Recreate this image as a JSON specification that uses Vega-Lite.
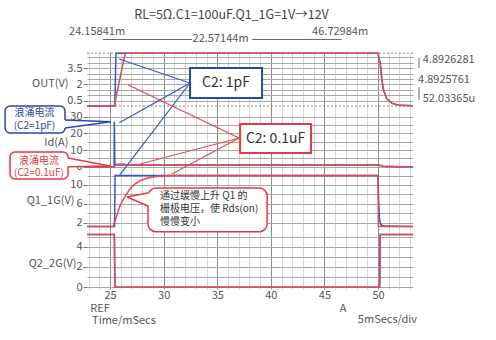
{
"$schema":"https://vega.github.io/schema/vega-lite/v6.json",
"width":326,"height":237,
"autosize":{"type":"none"},
"padding":{"left":87,"top":52,"right":83,"bottom":51},
"background":"white",
"config":{"font":"Noto Sans CJK SC","view":{"stroke":null},"axis":{"labelFont":"Noto Sans CJK SC","titleFont":"Noto Sans CJK SC"}},
"datasets":{"sig":[
{"s":"OUT","c":"1pF","t":22.85,"v":0},{"s":"OUT","c":"1pF","t":25.45,"v":0},{"s":"OUT","c":"1pF","t":25.55,"v":4.89},{"s":"OUT","c":"1pF","t":50,"v":4.89},{"s":"OUT","c":"1pF","t":50.2,"v":3.9},{"s":"OUT","c":"1pF","t":50.35,"v":2.5},{"s":"OUT","c":"1pF","t":50.5,"v":1.5},{"s":"OUT","c":"1pF","t":50.8,"v":0.7},{"s":"OUT","c":"1pF","t":51.3,"v":0.25},{"s":"OUT","c":"1pF","t":52,"v":0.06},{"s":"OUT","c":"1pF","t":53.26,"v":0.02},
{"s":"Id","c":"1pF","t":22.85,"v":0},{"s":"Id","c":"1pF","t":25.38,"v":0},{"s":"Id","c":"1pF","t":25.4,"v":27},{"s":"Id","c":"1pF","t":25.45,"v":1.5},{"s":"Id","c":"1pF","t":25.6,"v":0.98},{"s":"Id","c":"1pF","t":50,"v":0.98},{"s":"Id","c":"1pF","t":50.2,"v":0.78},{"s":"Id","c":"1pF","t":50.35,"v":0.5},{"s":"Id","c":"1pF","t":50.5,"v":0.3},{"s":"Id","c":"1pF","t":50.8,"v":0.14},{"s":"Id","c":"1pF","t":51.3,"v":0.05},{"s":"Id","c":"1pF","t":52,"v":0.01},{"s":"Id","c":"1pF","t":53.26,"v":0},
{"s":"Q1","c":"1pF","t":22.85,"v":1.15},{"s":"Q1","c":"1pF","t":25.42,"v":1.15},{"s":"Q1","c":"1pF","t":25.47,"v":12},{"s":"Q1","c":"1pF","t":50,"v":12},{"s":"Q1","c":"1pF","t":50.05,"v":7},{"s":"Q1","c":"1pF","t":50.12,"v":3},{"s":"Q1","c":"1pF","t":50.25,"v":1.6},{"s":"Q1","c":"1pF","t":50.5,"v":1.25},{"s":"Q1","c":"1pF","t":53.26,"v":1.15},
{"s":"Q2","c":"1pF","t":22.85,"v":5.2},{"s":"Q2","c":"1pF","t":25.4,"v":5.2},{"s":"Q2","c":"1pF","t":25.45,"v":0},{"s":"Q2","c":"1pF","t":50.15,"v":0},{"s":"Q2","c":"1pF","t":50.2,"v":5.2},{"s":"Q2","c":"1pF","t":53.26,"v":5.2},
{"s":"OUT","c":"0.1uF","t":22.85,"v":0},{"s":"OUT","c":"0.1uF","t":25.4,"v":0},{"s":"OUT","c":"0.1uF","t":25.7,"v":1.5},{"s":"OUT","c":"0.1uF","t":26,"v":2.95},{"s":"OUT","c":"0.1uF","t":26.3,"v":4.35},{"s":"OUT","c":"0.1uF","t":26.45,"v":4.89},{"s":"OUT","c":"0.1uF","t":50,"v":4.89},{"s":"OUT","c":"0.1uF","t":50.2,"v":3.9},{"s":"OUT","c":"0.1uF","t":50.35,"v":2.5},{"s":"OUT","c":"0.1uF","t":50.5,"v":1.5},{"s":"OUT","c":"0.1uF","t":50.8,"v":0.7},{"s":"OUT","c":"0.1uF","t":51.3,"v":0.25},{"s":"OUT","c":"0.1uF","t":52,"v":0.06},{"s":"OUT","c":"0.1uF","t":53.26,"v":0.02},
{"s":"Id","c":"0.1uF","t":22.85,"v":0},{"s":"Id","c":"0.1uF","t":25.4,"v":0},{"s":"Id","c":"0.1uF","t":25.55,"v":1.4},{"s":"Id","c":"0.1uF","t":26,"v":1.6},{"s":"Id","c":"0.1uF","t":26.4,"v":1.5},{"s":"Id","c":"0.1uF","t":26.5,"v":0.98},{"s":"Id","c":"0.1uF","t":50,"v":0.98},{"s":"Id","c":"0.1uF","t":50.2,"v":0.78},{"s":"Id","c":"0.1uF","t":50.35,"v":0.5},{"s":"Id","c":"0.1uF","t":50.5,"v":0.3},{"s":"Id","c":"0.1uF","t":50.8,"v":0.14},{"s":"Id","c":"0.1uF","t":51.3,"v":0.05},{"s":"Id","c":"0.1uF","t":52,"v":0.01},{"s":"Id","c":"0.1uF","t":53.26,"v":0},
{"s":"Q1","c":"0.1uF","t":22.85,"v":1.15},{"s":"Q1","c":"0.1uF","t":25.3,"v":1.15},{"s":"Q1","c":"0.1uF","t":25.6,"v":3.3},{"s":"Q1","c":"0.1uF","t":25.9,"v":5.4},{"s":"Q1","c":"0.1uF","t":26.2,"v":6.8},{"s":"Q1","c":"0.1uF","t":26.5,"v":7.9},{"s":"Q1","c":"0.1uF","t":26.9,"v":9.3},{"s":"Q1","c":"0.1uF","t":27.3,"v":10.2},{"s":"Q1","c":"0.1uF","t":27.8,"v":10.9},{"s":"Q1","c":"0.1uF","t":28.5,"v":11.5},{"s":"Q1","c":"0.1uF","t":29.3,"v":11.8},{"s":"Q1","c":"0.1uF","t":30.5,"v":12},{"s":"Q1","c":"0.1uF","t":50,"v":12},{"s":"Q1","c":"0.1uF","t":50.03,"v":1.3},{"s":"Q1","c":"0.1uF","t":50.3,"v":1.18},{"s":"Q1","c":"0.1uF","t":53.26,"v":1.15},
{"s":"Q2","c":"0.1uF","t":22.85,"v":5.2},{"s":"Q2","c":"0.1uF","t":25.4,"v":5.2},{"s":"Q2","c":"0.1uF","t":25.45,"v":0},{"s":"Q2","c":"0.1uF","t":50.15,"v":0},{"s":"Q2","c":"0.1uF","t":50.2,"v":5.2},{"s":"Q2","c":"0.1uF","t":53.26,"v":5.2}
]},
"resolve":{"scale":{"y":"independent"},"axis":{"x":"independent"}},
"layer":[
 {"data":{"name":"sig"},"transform":[{"filter":"datum.s=='Id'"}],"mark":{"type":"line","strokeWidth":0,"opacity":0},"encoding":{
  "x":{"field":"t","type":"quantitative","scale":{"domain":[22.85,53.26],"nice":false,"zero":false},"axis":{"orient":"bottom","values":[23,24,26,27,28,29,31,32,33,34,36,37,38,39,41,42,43,44,46,47,48,49,51,52,53],"labels":false,"ticks":false,"domain":false,"grid":true,"gridColor":"#d6d6d6","gridWidth":1,"title":null}},
  "y":{"field":"v","type":"quantitative","scale":{"domain":[-73.38,68.82],"nice":false,"zero":false},"axis":{"orient":"left","values":[0,5,10,15,20,25,30],"labelExpr":"datum.value % 10 == 0 ? '' + datum.value : ''","tickOpacity":{"condition":{"test":"datum.value % 10 == 0","value":1},"value":0},"tickSize":4,"tickColor":"#777","domain":false,"grid":true,"gridColor":"#a8a8a8","labelColor":"#555","labelFontSize":11,"labelPadding":1,"title":"Id(A)","titleAngle":0,"titleAlign":"right","titleBaseline":"middle","titleX":-19,"titleY":90.7,"titleFontSize":11,"titleFontWeight":"normal","titleColor":"#555"}}}},
 {"data":{"name":"sig"},"transform":[{"filter":"datum.s=='OUT'"}],"mark":{"type":"line","strokeWidth":0,"opacity":0},"encoding":{
  "x":{"field":"t","type":"quantitative","axis":{"orient":"bottom","values":[25,30,35,40,45,50],"ticks":false,"domain":false,"grid":true,"gridColor":"#8a8a8a","gridWidth":1,"labelColor":"#555","labelFontSize":11,"labelPadding":0,"labelFlush":false,"labelOverlap":false,"title":null}},
  "y":{"field":"v","type":"quantitative","scale":{"domain":[-16.944,5],"nice":false,"zero":false},"axis":{"orient":"left","values":[0.5,1,1.5,2,2.5,3,3.5,4,4.5],"labelExpr":"indexof([0.5,2,3.5], datum.value) >= 0 ? '' + datum.value : ''","tickOpacity":{"condition":{"test":"indexof([0.5,2,3.5], datum.value) >= 0","value":1},"value":0},"tickSize":4,"tickColor":"#777","domain":false,"grid":true,"gridColor":"#a8a8a8","labelColor":"#555","labelFontSize":11,"labelPadding":1,"title":"OUT(V)","titleAngle":0,"titleAlign":"right","titleBaseline":"middle","titleX":-19,"titleY":31,"titleFontSize":11,"titleFontWeight":"normal","titleColor":"#555"}}}},
 {"data":{"name":"sig"},"transform":[{"filter":"datum.s=='Q1'"}],"mark":{"type":"line","strokeWidth":0,"opacity":0},"encoding":{
  "x":{"field":"t","type":"quantitative","axis":null},
  "y":{"field":"v","type":"quantitative","scale":{"domain":[-12.128,38.298],"nice":false,"zero":false},"axis":{"orient":"left","values":[2,4,6,8,10,12],"labelExpr":"datum.value % 4 == 2 ? '' + datum.value : ''","tickOpacity":{"condition":{"test":"datum.value % 4 == 2","value":1},"value":0},"tickSize":4,"tickColor":"#777","domain":false,"grid":true,"gridColor":"#a8a8a8","labelColor":"#555","labelFontSize":11,"labelPadding":1,"title":"Q1_1G(V)","titleAngle":0,"titleAlign":"right","titleBaseline":"middle","titleX":-13,"titleY":148.7,"titleFontSize":11,"titleFontWeight":"normal","titleColor":"#555"}}}},
 {"data":{"name":"sig"},"transform":[{"filter":"datum.s=='Q2'"}],"mark":{"type":"line","strokeWidth":0,"opacity":0},"encoding":{
  "x":{"field":"t","type":"quantitative","axis":null},
  "y":{"field":"v","type":"quantitative","scale":{"domain":[-0.1675,23.182],"nice":false,"zero":false},"axis":{"orient":"left","values":[0,1,2,3,4,5],"labelExpr":"datum.value % 2 == 0 ? '' + datum.value : ''","tickOpacity":{"condition":{"test":"datum.value % 2 == 0","value":1},"value":0},"tickSize":4,"tickColor":"#777","domain":false,"grid":true,"gridColor":"#a8a8a8","labelColor":"#555","labelFontSize":11,"labelPadding":1,"title":"Q2_2G(V)","titleAngle":0,"titleAlign":"right","titleBaseline":"middle","titleX":-11,"titleY":211,"titleFontSize":11,"titleFontWeight":"normal","titleColor":"#555"}}}},
 {"mark":{"type":"rect","fill":"white"},"encoding":{"x":{"datum":22.85,"type":"quantitative","axis":null},"x2":{"datum":53.26},"y":{"datum":-0.046,"type":"quantitative","axis":null,"scale":{"domain":[-16.944,5],"nice":false,"zero":false}},"y2":{"datum":-0.417}}},
 {"mark":{"type":"rect","fill":"white"},"encoding":{"x":{"datum":22.85,"type":"quantitative","axis":null},"x2":{"datum":53.26},"y":{"datum":-1.98,"type":"quantitative","axis":null,"scale":{"domain":[-73.38,68.82],"nice":false,"zero":false}},"y2":{"datum":-4.08}}},
 {"mark":{"type":"rect","fill":"white"},"encoding":{"x":{"datum":22.85,"type":"quantitative","axis":null},"x2":{"datum":53.26},"y":{"datum":0.53,"type":"quantitative","axis":null,"scale":{"domain":[-12.128,38.298],"nice":false,"zero":false}},"y2":{"datum":-0.21}}},
 {"mark":{"type":"rule","color":"#bdbdbd","strokeDash":[1,2],"strokeWidth":1},"encoding":{"y":{"datum":0.21,"type":"quantitative","axis":null,"scale":{"domain":[-12.128,38.298],"nice":false,"zero":false}}}},
 {"data":{"values":[{"v":4.8926},{"v":0.00005}]},"mark":{"type":"rule","color":"#8c8c8c","strokeDash":[2,2],"strokeWidth":1},"encoding":{"y":{"field":"v","type":"quantitative","axis":null,"scale":{"domain":[-16.944,5],"nice":false,"zero":false}}}},
 {"mark":{"type":"rule","color":"#777","strokeDash":[2,2],"strokeWidth":1},"encoding":{"x":{"datum":24.158,"type":"quantitative","axis":null}}},
 {"data":{"name":"sig"},"transform":[{"filter":"datum.s=='OUT'"}],"mark":{"type":"line","strokeWidth":1.5},"encoding":{"x":{"field":"t","type":"quantitative","axis":null},"y":{"field":"v","type":"quantitative","axis":null,"scale":{"domain":[-16.944,5],"nice":false,"zero":false}},"color":{"field":"c","type":"nominal","scale":{"domain":["1pF","0.1uF"],"range":["#3558c8","#e64a4e"]},"legend":null}}},
 {"data":{"name":"sig"},"transform":[{"filter":"datum.s=='Id'"}],"mark":{"type":"line","strokeWidth":1.5},"encoding":{"x":{"field":"t","type":"quantitative","axis":null},"y":{"field":"v","type":"quantitative","axis":null,"scale":{"domain":[-73.38,68.82],"nice":false,"zero":false}},"color":{"field":"c","type":"nominal","legend":null}}},
 {"data":{"name":"sig"},"transform":[{"filter":"datum.s=='Q1'"}],"mark":{"type":"line","strokeWidth":1.5},"encoding":{"x":{"field":"t","type":"quantitative","axis":null},"y":{"field":"v","type":"quantitative","axis":null,"scale":{"domain":[-12.128,38.298],"nice":false,"zero":false}},"color":{"field":"c","type":"nominal","legend":null}}},
 {"data":{"name":"sig"},"transform":[{"filter":"datum.s=='Q2'"}],"mark":{"type":"line","strokeWidth":1.5},"encoding":{"x":{"field":"t","type":"quantitative","axis":null},"y":{"field":"v","type":"quantitative","axis":null,"scale":{"domain":[-0.1675,23.182],"nice":false,"zero":false}},"color":{"field":"c","type":"nominal","legend":null}}},
 {"data":{"values":[{"t":36.33,"v":8.43,"txt":"RL=5Ω.C1=100uF.Q1_1G=1V→12V"}]},"mark":{"type":"text","fontSize":12.5,"color":"#444","align":"center","baseline":"middle"},"encoding":{"x":{"field":"t","type":"quantitative","axis":null},"y":{"field":"v","type":"quantitative","axis":null,"scale":{"domain":[-16.944,5],"nice":false,"zero":false}},"text":{"field":"txt"}}},
 {"data":{"values":[{"t":23.79,"v":6.85,"txt":"24.15841m"},{"t":35.31,"v":6.16,"txt":"22.57144m"},{"t":46.46,"v":6.85,"txt":"46.72984m"}]},"mark":{"type":"text","fontSize":11,"color":"#555","align":"center","baseline":"middle"},"encoding":{"x":{"field":"t","type":"quantitative","axis":null},"y":{"field":"v","type":"quantitative","axis":null,"scale":{"domain":[-16.944,5],"nice":false,"zero":false}},"text":{"field":"txt"}}},
 {"data":{"values":[{"t":32.65,"t2":24.3,"v":6.16,"v2":6.16},{"t":38.25,"t2":46.6,"v":6.16,"v2":6.16},{"t":53.82,"t2":53.82,"v":3.52,"v2":4.44},{"t":53.82,"t2":53.82,"v":1.76,"v2":0.56}]},"mark":{"type":"rule","color":"#666","strokeWidth":1},"encoding":{"x":{"field":"t","type":"quantitative","axis":null},"x2":{"field":"t2"},"y":{"field":"v","type":"quantitative","axis":null,"scale":{"domain":[-16.944,5],"nice":false,"zero":false}},"y2":{"field":"v2"}}},
 {"mark":{"type":"point","shape":"triangle-left","filled":true,"size":22,"color":"#666","opacity":1},"encoding":{"x":{"datum":24.42,"type":"quantitative","axis":null},"y":{"datum":6.16,"type":"quantitative","axis":null,"scale":{"domain":[-16.944,5],"nice":false,"zero":false}}}},
 {"mark":{"type":"point","shape":"triangle-right","filled":true,"size":22,"color":"#666","opacity":1},"encoding":{"x":{"datum":46.48,"type":"quantitative","axis":null},"y":{"datum":6.16,"type":"quantitative","axis":null,"scale":{"domain":[-16.944,5],"nice":false,"zero":false}}}},
 {"mark":{"type":"point","shape":"triangle-up","filled":true,"size":12,"color":"#666","opacity":1},"encoding":{"x":{"datum":53.82,"type":"quantitative","axis":null},"y":{"datum":4.35,"type":"quantitative","axis":null,"scale":{"domain":[-16.944,5],"nice":false,"zero":false}}}},
 {"mark":{"type":"point","shape":"triangle-down","filled":true,"size":12,"color":"#666","opacity":1},"encoding":{"x":{"datum":53.82,"type":"quantitative","axis":null},"y":{"datum":0.65,"type":"quantitative","axis":null,"scale":{"domain":[-16.944,5],"nice":false,"zero":false}}}},
 {"data":{"values":[{"t":54.17,"v":4.26,"txt":"4.8926281"},{"t":53.73,"v":2.41,"txt":"4.8925761"},{"t":54.17,"v":0.65,"txt":"52.03365u"}]},"mark":{"type":"text","fontSize":11,"color":"#555","align":"left","baseline":"middle"},"encoding":{"x":{"field":"t","type":"quantitative","axis":null},"y":{"field":"v","type":"quantitative","axis":null,"scale":{"domain":[-16.944,5],"nice":false,"zero":false}},"text":{"field":"txt"}}},
 {"data":{"values":[{"t":32.46,"v":2.13,"t2":25.84,"v2":4.35}]},"mark":{"type":"rule","color":"#3558c8","strokeWidth":1.2},"encoding":{"x":{"field":"t","type":"quantitative","axis":null},"x2":{"field":"t2"},"y":{"field":"v","type":"quantitative","axis":null,"scale":{"domain":[-16.944,5],"nice":false,"zero":false}},"y2":{"field":"v2"}}},
 {"data":{"values":[{"t":37.03,"v":-2.96,"t2":26.71,"v2":1.94}]},"mark":{"type":"rule","color":"#e64a4e","strokeWidth":1.2},"encoding":{"x":{"field":"t","type":"quantitative","axis":null},"x2":{"field":"t2"},"y":{"field":"v","type":"quantitative","axis":null,"scale":{"domain":[-16.944,5],"nice":false,"zero":false}},"y2":{"field":"v2"}}},
 {"data":{"values":[{"t":32.46,"t2":39.18,"v":3.52,"v2":0.74}]},"mark":{"type":"rect","fill":"white","stroke":"#2a48a8","strokeWidth":2},"encoding":{"x":{"field":"t","type":"quantitative","axis":null},"x2":{"field":"t2"},"y":{"field":"v","type":"quantitative","axis":null,"scale":{"domain":[-16.944,5],"nice":false,"zero":false}},"y2":{"field":"v2"}}},
 {"data":{"values":[{"t":35.82,"v":2.13,"txt":"C2: 1pF"}]},"mark":{"type":"text","fontSize":14,"color":"#333","align":"center","baseline":"middle"},"encoding":{"x":{"field":"t","type":"quantitative","axis":null},"y":{"field":"v","type":"quantitative","axis":null,"scale":{"domain":[-16.944,5],"nice":false,"zero":false}},"text":{"field":"txt"}}},
 {"data":{"values":[{"t":32.46,"v":50.22,"t2":25.87,"v2":26.4}]},"mark":{"type":"rule","color":"#3558c8","strokeWidth":1.2},"encoding":{"x":{"field":"t","type":"quantitative","axis":null},"x2":{"field":"t2"},"y":{"field":"v","type":"quantitative","axis":null,"scale":{"domain":[-73.38,68.82],"nice":false,"zero":false}},"y2":{"field":"v2"}}},
 {"data":{"values":[{"t":37.03,"v":17.22,"t2":27.8,"v2":1.62}]},"mark":{"type":"rule","color":"#e64a4e","strokeWidth":1.2},"encoding":{"x":{"field":"t","type":"quantitative","axis":null},"x2":{"field":"t2"},"y":{"field":"v","type":"quantitative","axis":null,"scale":{"domain":[-73.38,68.82],"nice":false,"zero":false}},"y2":{"field":"v2"}}},
 {"data":{"values":[{"t":37.13,"t2":43.75,"v":25.62,"v2":8.22}]},"mark":{"type":"rect","fill":"white","stroke":"#e23b40","strokeWidth":2},"encoding":{"x":{"field":"t","type":"quantitative","axis":null},"x2":{"field":"t2"},"y":{"field":"v","type":"quantitative","axis":null,"scale":{"domain":[-73.38,68.82],"nice":false,"zero":false}},"y2":{"field":"v2"}}},
 {"data":{"values":[{"t":40.44,"v":16.9,"txt":"C2: 0.1uF"}]},"mark":{"type":"text","fontSize":14,"color":"#333","align":"center","baseline":"middle"},"encoding":{"x":{"field":"t","type":"quantitative","axis":null},"y":{"field":"v","type":"quantitative","axis":null,"scale":{"domain":[-73.38,68.82],"nice":false,"zero":false}},"text":{"field":"txt"}}},
 {"data":{"values":[{"t":15.21,"t2":20.8,"v":36.42,"v2":20.22}]},"mark":{"type":"rect","fill":"white","stroke":"#2a48a8","strokeWidth":1.5,"cornerRadius":5},"encoding":{"x":{"field":"t","type":"quantitative","axis":null},"x2":{"field":"t2"},"y":{"field":"v","type":"quantitative","axis":null,"scale":{"domain":[-73.38,68.82],"nice":false,"zero":false}},"y2":{"field":"v2"}}},
 {"data":{"values":[{"t":20.7,"v":28.02,"v2":23.22},{"t":25.07,"v":27.0,"v2":27.0}]},"mark":{"type":"area","color":"white","opacity":1,"fillOpacity":1},"encoding":{"x":{"field":"t","type":"quantitative","axis":null},"y":{"field":"v","type":"quantitative","axis":null,"scale":{"domain":[-73.38,68.82],"nice":false,"zero":false}},"y2":{"field":"v2"}}},
 {"data":{"values":[{"t":20.8,"v":28.02,"t2":25.07,"v2":27.0},{"t":20.8,"v":23.22,"t2":25.07,"v2":27.0}]},"mark":{"type":"rule","color":"#2a48a8","strokeWidth":1.5},"encoding":{"x":{"field":"t","type":"quantitative","axis":null},"x2":{"field":"t2"},"y":{"field":"v","type":"quantitative","axis":null,"scale":{"domain":[-73.38,68.82],"nice":false,"zero":false}},"y2":{"field":"v2"}}},
 {"data":{"values":[{"t":17.95,"v":32.2,"txt":"浪涌电流"},{"t":17.95,"v":24.2,"txt":"(C2=1pF)"}]},"mark":{"type":"text","fontSize":10,"color":"#2a48a8","align":"center","baseline":"middle"},"encoding":{"x":{"field":"t","type":"quantitative","axis":null},"y":{"field":"v","type":"quantitative","axis":null,"scale":{"domain":[-73.38,68.82],"nice":false,"zero":false}},"text":{"field":"txt"}}},
 {"data":{"values":[{"t":15.67,"t2":21.08,"v":8.82,"v2":-7.38}]},"mark":{"type":"rect","fill":"white","stroke":"#e23b40","strokeWidth":1.5,"cornerRadius":5},"encoding":{"x":{"field":"t","type":"quantitative","axis":null},"x2":{"field":"t2"},"y":{"field":"v","type":"quantitative","axis":null,"scale":{"domain":[-73.38,68.82],"nice":false,"zero":false}},"y2":{"field":"v2"}}},
 {"data":{"values":[{"t":20.98,"v":5.22,"v2":0.0},{"t":25.0,"v":0.42,"v2":0.42}]},"mark":{"type":"area","color":"white","opacity":1,"fillOpacity":1},"encoding":{"x":{"field":"t","type":"quantitative","axis":null},"y":{"field":"v","type":"quantitative","axis":null,"scale":{"domain":[-73.38,68.82],"nice":false,"zero":false}},"y2":{"field":"v2"}}},
 {"data":{"values":[{"t":21.08,"v":5.22,"t2":25.0,"v2":0.42},{"t":21.08,"v":0.0,"t2":25.0,"v2":0.42}]},"mark":{"type":"rule","color":"#e23b40","strokeWidth":1.5},"encoding":{"x":{"field":"t","type":"quantitative","axis":null},"x2":{"field":"t2"},"y":{"field":"v","type":"quantitative","axis":null,"scale":{"domain":[-73.38,68.82],"nice":false,"zero":false}},"y2":{"field":"v2"}}},
 {"data":{"values":[{"t":18.37,"v":3.3,"txt":"浪涌电流"},{"t":18.37,"v":-3.9,"txt":"(C2=0.1uF)"}]},"mark":{"type":"text","fontSize":10,"color":"#e23b40","align":"center","baseline":"middle"},"encoding":{"x":{"field":"t","type":"quantitative","axis":null},"y":{"field":"v","type":"quantitative","axis":null,"scale":{"domain":[-73.38,68.82],"nice":false,"zero":false}},"text":{"field":"txt"}}},
 {"data":{"values":[{"t":32.46,"v":31.7,"t2":25.93,"v2":12.23}]},"mark":{"type":"rule","color":"#3558c8","strokeWidth":1.2},"encoding":{"x":{"field":"t","type":"quantitative","axis":null},"x2":{"field":"t2"},"y":{"field":"v","type":"quantitative","axis":null,"scale":{"domain":[-12.128,38.298],"nice":false,"zero":false}},"y2":{"field":"v2"}}},
 {"data":{"values":[{"t":37.03,"v":20.0,"t2":30.76,"v2":12.34}]},"mark":{"type":"rule","color":"#e64a4e","strokeWidth":1.2},"encoding":{"x":{"field":"t","type":"quantitative","axis":null},"x2":{"field":"t2"},"y":{"field":"v","type":"quantitative","axis":null,"scale":{"domain":[-12.128,38.298],"nice":false,"zero":false}},"y2":{"field":"v2"}}},
 {"data":{"values":[{"t":28.54,"t2":39.65,"v":9.36,"v2":0.06}]},"mark":{"type":"rect","fill":"white","stroke":"#e23b40","strokeWidth":1.5,"cornerRadius":8},"encoding":{"x":{"field":"t","type":"quantitative","axis":null},"x2":{"field":"t2"},"y":{"field":"v","type":"quantitative","axis":null,"scale":{"domain":[-12.128,38.298],"nice":false,"zero":false}},"y2":{"field":"v2"}}},
 {"data":{"values":[{"t":26.59,"v":7.45,"v2":7.45},{"t":28.7,"v":8.3,"v2":5.53}]},"mark":{"type":"area","color":"white","opacity":1,"fillOpacity":1},"encoding":{"x":{"field":"t","type":"quantitative","axis":null},"y":{"field":"v","type":"quantitative","axis":null,"scale":{"domain":[-12.128,38.298],"nice":false,"zero":false}},"y2":{"field":"v2"}}},
 {"data":{"values":[{"t":28.54,"v":8.3,"t2":26.59,"v2":7.45},{"t":28.54,"v":5.53,"t2":26.59,"v2":7.45}]},"mark":{"type":"rule","color":"#e23b40","strokeWidth":1.5},"encoding":{"x":{"field":"t","type":"quantitative","axis":null},"x2":{"field":"t2"},"y":{"field":"v","type":"quantitative","axis":null,"scale":{"domain":[-12.128,38.298],"nice":false,"zero":false}},"y2":{"field":"v2"}}},
 {"data":{"values":[{"t":29.66,"v":7.75,"txt":"通过缓慢上升 Q1 的"},{"t":29.66,"v":4.9,"txt":"栅极电压，使 Rds(on)"},{"t":29.66,"v":2.05,"txt":"慢慢变小"}]},"mark":{"type":"text","fontSize":10,"color":"#333","align":"left","baseline":"middle"},"encoding":{"x":{"field":"t","type":"quantitative","axis":null},"y":{"field":"v","type":"quantitative","axis":null,"scale":{"domain":[-12.128,38.298],"nice":false,"zero":false}},"text":{"field":"txt"}}},
 {"data":{"values":[{"t":24.07,"v":-2.1,"txt":"REF"},{"t":46.74,"v":-2.1,"txt":"A"}]},"mark":{"type":"text","fontSize":11,"color":"#555","align":"center","baseline":"middle"},"encoding":{"x":{"field":"t","type":"quantitative","axis":null},"y":{"field":"v","type":"quantitative","axis":null,"scale":{"domain":[-0.1675,23.182],"nice":false,"zero":false}},"text":{"field":"txt"}}},
 {"data":{"values":[{"t":23.32,"v":-3.3,"txt":"Time/mSecs"}]},"mark":{"type":"text","fontSize":11,"color":"#555","align":"left","baseline":"middle"},"encoding":{"x":{"field":"t","type":"quantitative","axis":null},"y":{"field":"v","type":"quantitative","axis":null,"scale":{"domain":[-0.1675,23.182],"nice":false,"zero":false}},"text":{"field":"txt"}}},
 {"data":{"values":[{"t":53.64,"v":-3.2,"txt":"5mSecs/div"}]},"mark":{"type":"text","fontSize":11,"color":"#555","align":"right","baseline":"middle"},"encoding":{"x":{"field":"t","type":"quantitative","axis":null},"y":{"field":"v","type":"quantitative","axis":null,"scale":{"domain":[-0.1675,23.182],"nice":false,"zero":false}},"text":{"field":"txt"}}}
]
}
